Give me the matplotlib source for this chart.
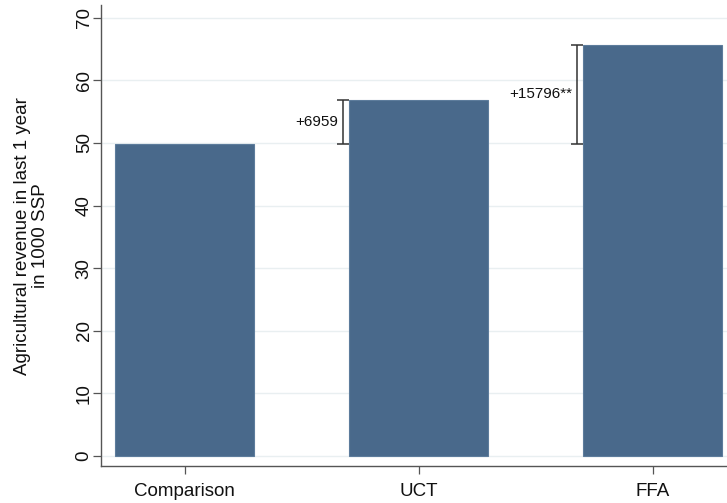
import matplotlib
matplotlib.use("Agg")
import matplotlib.pyplot as plt

# Mean agricultural revenue by group (1000 SSP)
groups = ["Comparison", "UCT", "FFA"]
revenue = [49.9, 56.86, 65.70]
diff_labels = ["", "+6959", "+15796**"]
y_ticks = [0, 10, 20, 30, 40, 50, 60, 70]

plt.rcParams["font.family"] = ["Liberation Sans", "DejaVu Sans"]

fig = plt.figure(figsize=(7.27, 5.03), dpi=100)
ax = fig.add_axes([0.139, 0.0736, 0.861, 0.916])

bar_color = "#49698b"
x = list(range(len(groups)))
ax.bar(x, revenue, width=0.595, color=bar_color, edgecolor="#5d7c9c",
       linewidth=0.8, zorder=3)

# Brackets showing the difference from the comparison group
base = revenue[0]
for i in range(1, len(groups)):
    xb = x[i] - 0.325
    ax.errorbar([xb], [(base + revenue[i]) / 2],
                yerr=[[(revenue[i] - base) / 2], [(revenue[i] - base) / 2]],
                fmt="none", ecolor="#333333", elinewidth=1.1, capsize=4.5,
                capthick=1.1, zorder=4)
    ax.text(xb - 0.02, (base + revenue[i]) / 2, diff_labels[i],
            ha="right", va="center", fontsize=11, color="#111111", zorder=5)

ax.set_xlim(-0.357, 2.318)
ax.set_ylim(-1.6, 72.0)
ax.set_yticks(y_ticks)
ax.set_yticklabels([str(v) for v in y_ticks], rotation=90, va="center")
ax.set_xticks(x)
ax.set_xticklabels(groups)

ax.yaxis.grid(True, color="#e9eff1", linewidth=1.0, zorder=0)
ax.set_axisbelow(True)

for side in ("top", "right"):
    ax.spines[side].set_visible(False)
for side in ("left", "bottom"):
    ax.spines[side].set_color("#555555")
    ax.spines[side].set_linewidth(1.0)

ax.tick_params(axis="both", labelsize=13.5, colors="#111111", length=6,
               width=0.9)
ax.tick_params(axis="both", color="#555555")
ax.tick_params(axis="x", pad=6)
ax.tick_params(axis="y", pad=0)

ax.set_ylabel("Agricultural revenue in last 1 year\nin 1000 SSP",
              fontsize=13.5, color="#111111", linespacing=1.1)
ax.yaxis.set_label_coords(-0.083, 0.5)

fig.savefig("out.png", dpi=100)
